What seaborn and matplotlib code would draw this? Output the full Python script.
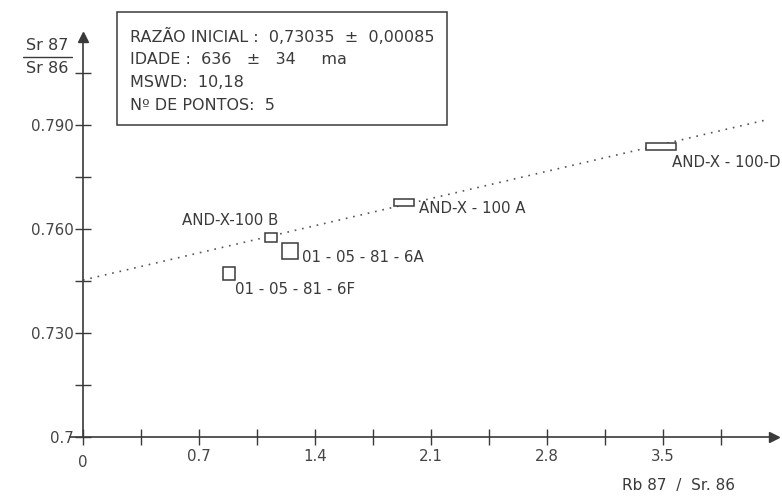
import numpy as np
import pandas as pd
import seaborn as sns
import matplotlib
matplotlib.use("Agg")
import matplotlib.pyplot as plt
from matplotlib.patches import Rectangle
from matplotlib.lines import Line2D

samples = ["AND-X-100 B", "01 - 05 - 81 - 6A", "01 - 05 - 81 - 6F", "AND-X - 100 A", "AND-X - 100-D"]
rb_sr = [1.135, 1.250, 0.880, 1.940, 3.490]
sr_sr = [0.7575, 0.7537, 0.7471, 0.7677, 0.7840]
err_x = [0.036, 0.048, 0.036, 0.060, 0.090]
err_y = [0.0013, 0.0022, 0.0019, 0.0009, 0.0010]

# isochron ends
line_x = [0.0, 4.12]
line_y = [0.7453, 0.7915]

x_ticks = [0, 0.35, 0.7, 1.05, 1.4, 1.75, 2.1, 2.45, 2.8, 3.15, 3.5, 3.85]
x_labels = ["0", "", "0.7", "", "1.4", "", "2.1", "", "2.8", "", "3.5", ""]
y_ticks = [0.7, 0.715, 0.73, 0.745, 0.76, 0.775, 0.79, 0.805]
y_labels = ["0.7", "", "0.730", "", "0.760", "", "0.790", ""]

info = ["RAZÃO INICIAL :  0,73035  ±  0,00085",
        "IDADE :  636   ±   34     ma",
        "MSWD:  10,18",
        "Nº DE PONTOS:  5"]

# label offsets in points (dx, dy, ha)
offsets = [(5, 12.5, "right"), (8.5, -4.5, "left"), (4.3, -11, "left"),
           (10.5, -4.3, "left"), (8, -12, "left")]

sns.set_style("white")
plt.rcParams["font.family"] = ["DejaVu Sans"]
ink = "#3a3a3a"

fig = plt.figure(figsize=(7.82, 4.96), dpi=100)
ax = fig.add_axes([0.0891, 0.119, 0.9005, 0.8065])

df = pd.DataFrame({"x": line_x, "y": line_y})
sns.lineplot(data=df, x="x", y="y", ax=ax, color="#555555", lw=1.2,
             linestyle=(0, (1, 3.5)))

for name, x, y, ex, ey, (dx, dy, ha) in zip(samples, rb_sr, sr_sr, err_x, err_y, offsets):
    ax.add_patch(Rectangle((x - ex, y - ey), 2 * ex, 2 * ey, fill=True,
                           facecolor="white", edgecolor=ink, lw=1.1, zorder=3))
    ax.annotate(name, (x, y), xytext=(dx, dy), textcoords="offset points",
                ha=ha, va="center", fontsize=10.8, color=ink)

ax.set_xlim(-0.08, 4.17)
ax.set_ylim(0.7, 0.8155)
ax.set_xticks(x_ticks)
ax.set_xticklabels(x_labels)
ax.set_yticks(y_ticks)
ax.set_yticklabels(y_labels)
ax.set_xlabel("")
ax.set_ylabel("")

for s in ["top", "right"]:
    ax.spines[s].set_visible(False)
ax.spines["left"].set_position(("data", 0))
for s in ["left", "bottom"]:
    ax.spines[s].set_color(ink)
    ax.spines[s].set_linewidth(1.2)
ax.tick_params(bottom=True, left=True, direction="inout", length=11, width=1,
               color=ink, labelcolor="#444444", labelsize=10.8, pad=3)
ax.tick_params(axis="y", pad=1)
# the origin label sits a little lower in the original
ax.get_xticklabels()[0].set_y(-0.015)

ax.plot(1, 0, ">", color=ink, ms=7, transform=ax.transAxes, clip_on=False)
ax.plot(0, 1, "^", color=ink, ms=7, transform=ax.get_xaxis_transform(), clip_on=False)

# info box
fig.add_artist(Rectangle((0.1496, 0.748), 0.422, 0.228, transform=fig.transFigure,
                         fill=False, edgecolor=ink, lw=1.1))
for i, t in enumerate(info):
    fig.text(0.166, 0.927 - i * 0.0465, t, fontsize=11.5, color=ink, va="center")

# y-axis fraction label
fig.text(0.060, 0.909, "Sr 87", fontsize=11.5, color=ink, ha="center", va="center")
fig.add_artist(Line2D([0.029, 0.092], [0.885, 0.885], color=ink, lw=1))
fig.text(0.060, 0.861, "Sr 86", fontsize=11.5, color=ink, ha="center", va="center")
fig.text(0.868, 0.022, "Rb 87  /  Sr. 86", fontsize=11, color=ink, ha="center", va="center")

fig.savefig("out.png", dpi=100)
